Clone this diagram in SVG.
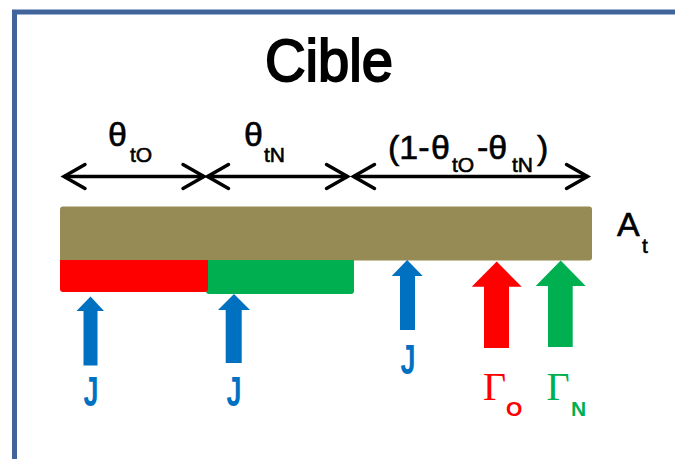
<svg xmlns="http://www.w3.org/2000/svg" width="675" height="459" viewBox="0 0 675 459">
<defs>
<style>
.lbl{font-family:"Liberation Sans",Arial,sans-serif;font-size:34px;fill:#000;stroke:#000;stroke-width:0.6px}
.sub{font-size:21px}
.dim{stroke:#000;stroke-width:3.5;fill:none}
.J{font-family:"Liberation Sans",Arial,sans-serif;font-weight:bold;font-size:42px;fill:#0070C0;text-anchor:middle}
.gam{font-family:"Liberation Serif","Times New Roman",serif;font-size:40px}
.gsub{font-family:"Liberation Sans",Arial,sans-serif;font-weight:bold;font-size:21px}
</style>
<marker id="chev" markerUnits="userSpaceOnUse" viewBox="-25 -15 30 30" refX="0" refY="0" markerWidth="30" markerHeight="30" orient="auto-start-reverse">
<path d="M-21,-12 L0,0 L-21,12" fill="none" stroke="#000" stroke-width="3.5" stroke-linecap="round" stroke-linejoin="miter"/>
</marker>
</defs>
<rect x="0" y="0" width="675" height="459" fill="#fff"/>
<rect id="frame" x="14.5" y="12" width="700" height="500" fill="none" stroke="#41659A" stroke-width="5"/>
<g id="title"><text x="329" y="81" font-family="Liberation Sans,Arial,sans-serif" font-size="60" stroke="#000" stroke-width="2" text-anchor="middle" textLength="128" lengthAdjust="spacingAndGlyphs">Cible</text></g>

<g id="target-bar"><rect x="60" y="206.5" width="532" height="54" rx="3" fill="#968A55"/></g>
<g id="green-bar"><rect x="206" y="258" width="148" height="36" rx="3" fill="#00B050"/></g>
<g id="red-bar"><rect x="60" y="258" width="148" height="34" rx="3" fill="#FF0000"/></g>
<rect x="60" y="256" width="294" height="4" fill="#968A55"/>

<g id="label-At"><text class="lbl" x="617" y="236" font-size="33">A<tspan class="sub" x="642" y="253">t</tspan></text></g>

<g id="label-thetaO"><text class="lbl" x="108" y="146">θ<tspan class="sub" x="130" y="162">tO</tspan></text></g>
<g id="label-thetaN"><text class="lbl" x="244" y="146">θ<tspan class="sub" x="264" y="162">tN</tspan></text></g>
<g id="label-rest"><text class="lbl" x="388" y="159">(1-<tspan x="431" y="159">θ</tspan><tspan class="sub" x="452" y="172">tO</tspan><tspan x="477" y="159">-θ</tspan><tspan class="sub" x="512" y="172">tN</tspan><tspan x="537" y="159">)</tspan></text></g>

<g id="connectors">
<line class="dim" x1="64" y1="176.5" x2="204" y2="176.5" marker-start="url(#chev)" marker-end="url(#chev)"/>
<line class="dim" x1="207.5" y1="176.5" x2="347.5" y2="176.5" marker-start="url(#chev)" marker-end="url(#chev)"/>
<line class="dim" x1="353.5" y1="176.5" x2="587.5" y2="176.5" marker-start="url(#chev)" marker-end="url(#chev)"/>
</g>

<g id="flux-J1"><polygon points="90.5,296.5 104,311 97.5,311 97.5,365.5 83.5,365.5 83.5,311 76.5,311" fill="#0070C0"/><text class="J" x="91" y="406" textLength="15" lengthAdjust="spacingAndGlyphs">J</text></g>
<g id="flux-J2"><polygon points="234,294 250,310 241.7,310 241.7,363 225.7,363 225.7,310 218,310" fill="#0070C0"/><text class="J" x="234" y="406" textLength="15" lengthAdjust="spacingAndGlyphs">J</text></g>
<g id="flux-J3"><polygon points="407.2,260 422.7,276 415,276 415,330 400,330 400,276 391.7,276" fill="#0070C0"/><text class="J" x="408" y="374" textLength="15" lengthAdjust="spacingAndGlyphs">J</text></g>
<g id="flux-GO"><polygon points="496.7,261.5 521.7,286.7 509,286.7 509,348 484,348 484,286.7 471.7,286.7" fill="#FF0000"/><text x="483" y="400" fill="#FF0000"><tspan class="gam">Γ</tspan><tspan class="gsub" x="506" y="416">O</tspan></text></g>
<g id="flux-GN"><polygon points="560.7,260.5 585.7,286 572.7,286 572.7,347 548,347 548,286 535.7,286" fill="#00B050"/><text x="546.5" y="400" fill="#00B050"><tspan class="gam">Γ</tspan><tspan class="gsub" x="571" y="416">N</tspan></text></g>
</svg>
